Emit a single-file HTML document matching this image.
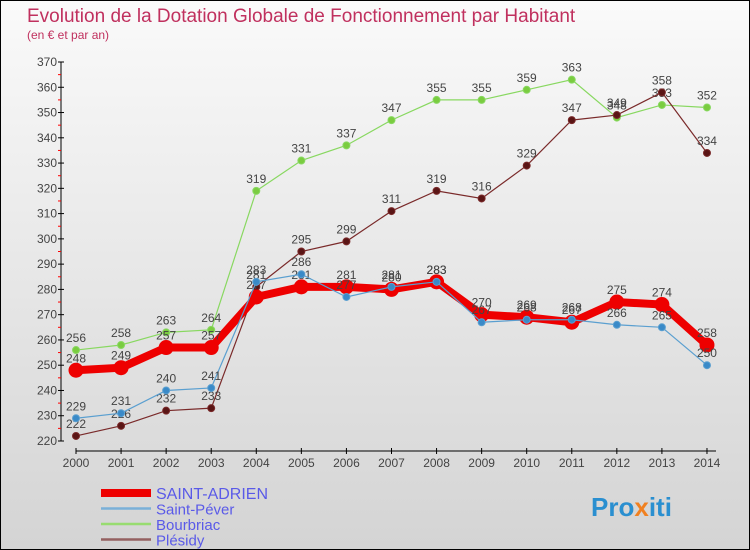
<!DOCTYPE html>
<html><head><meta charset="utf-8"><style>
body{margin:0}
#c{width:750px;height:550px;position:relative;background:linear-gradient(#fafafa,#d4d4d4);box-sizing:border-box;border:1px solid #000;overflow:hidden;font-family:"Liberation Sans",sans-serif}
svg{position:absolute;left:0;top:0}
</style></head><body>
<div id="c">
<svg id="s" width="750" height="550">
<text x="26" y="21" font-size="19" fill="#c0305e">Evolution de la Dotation Globale de Fonctionnement par Habitant</text>
<text x="26" y="38" font-size="12" fill="#c0305e">(en € et par an)</text>
<text x="590" y="515" font-size="26" font-weight="bold" fill="#2a8fd0">Pro<tspan fill="#f08020">x</tspan>iti</text>
</svg>
</div>
<script>
const years=[2000,2001,2002,2003,2004,2005,2006,2007,2008,2009,2010,2011,2012,2013,2014];
const saintAdrien=[248,249,257,257,277,281,281,280,283,270,269,267,275,274,258];
const saintPever=[229,231,240,241,283,286,277,281,283,267,268,268,266,265,250];
const bourbriac=[256,258,263,264,319,331,337,347,355,355,359,363,348,353,352];
const plesidy=[222,226,232,233,281,295,299,311,319,316,329,347,349,358,334];
const yTicks=[220,230,240,250,260,270,280,290,300,310,320,330,340,350,360,370];
const NS="http://www.w3.org/2000/svg";
const s=document.getElementById('s');
const x=i=>75+i*45.07;
const y=v=>440-(v-220)*(379/150);
function mk(t,a,p){const e=document.createElementNS(NS,t);for(const k in a)e.setAttribute(k,a[k]);(p||s).appendChild(e);return e;}
let e;
e=mk('line',{x1:60,y1:y(370),x2:60,y2:440,stroke:'#000'});


e=mk('line',{x1:75,y1:450,x2:715,y2:450,stroke:'#000'});


yTicks.forEach(v=>{
 mk('line',{x1:57,x2:63,y1:y(v),y2:y(v),stroke:'#000'});
 if(v<370)mk('line',{x1:57,x2:60,y1:y(v+5),y2:y(v+5),stroke:'#f00'});
 e=mk('text',{x:56,y:y(v)+4,'font-size':12,'text-anchor':'end',fill:'#444'});
 e.textContent=v;
 
 
});
years.forEach((yr,i)=>{
 mk('line',{x1:x(i),x2:x(i),y1:447,y2:453,stroke:'#000'});
 e=mk('text',{x:x(i),y:466,'font-size':12,'text-anchor':'middle',fill:'#444'});
 e.textContent=yr;
 
 
});
function series(name,data,color,w,r,dot){
 const g=mk('g',{});
 
 
 e=mk('polyline',{points:data.map((v,i)=>x(i)+','+y(v)).join(' '),fill:'none',stroke:color,'stroke-width':w},g);
 
 
 data.forEach((v,i)=>{
  e=mk('circle',{cx:x(i),cy:y(v),r:r,fill:dot,stroke:color},g);
  
  
  e=mk('text',{x:x(i),y:y(v)-8,'font-size':12,'text-anchor':'middle',fill:'#444'},g);
  e.textContent=v;
  
  
 });
}
series('bourbriac',bourbriac,'#88d860',1.2,3.5,'#7acc40');
series('plesidy',plesidy,'#7a2a2a',1.2,3.5,'#5a1515');
series('saint-adrien',saintAdrien,'#ee0000',8,7,'#ee0000');
series('saint-pever',saintPever,'#5a9fd0',1.2,3.5,'#3a8ac8');
const leg=[['SAINT-ADRIEN','#ee0000',8],['Saint-Péver','#7ab0d8',2.5],['Bourbriac','#98dc70',2.5],['Plésidy','#946060',2.5]];
leg.forEach((l,i)=>{
 const yy=492+i*15.5;
 e=mk('line',{x1:100,x2:150,y1:yy,y2:yy,stroke:l[1],'stroke-width':l[2]});
 
 
 e=mk('text',{x:155,y:yy+6,'font-size':i==0?16:15,fill:'#5a5ae8'});
 e.textContent=l[0];
 
 
});
</script>
</body></html>
